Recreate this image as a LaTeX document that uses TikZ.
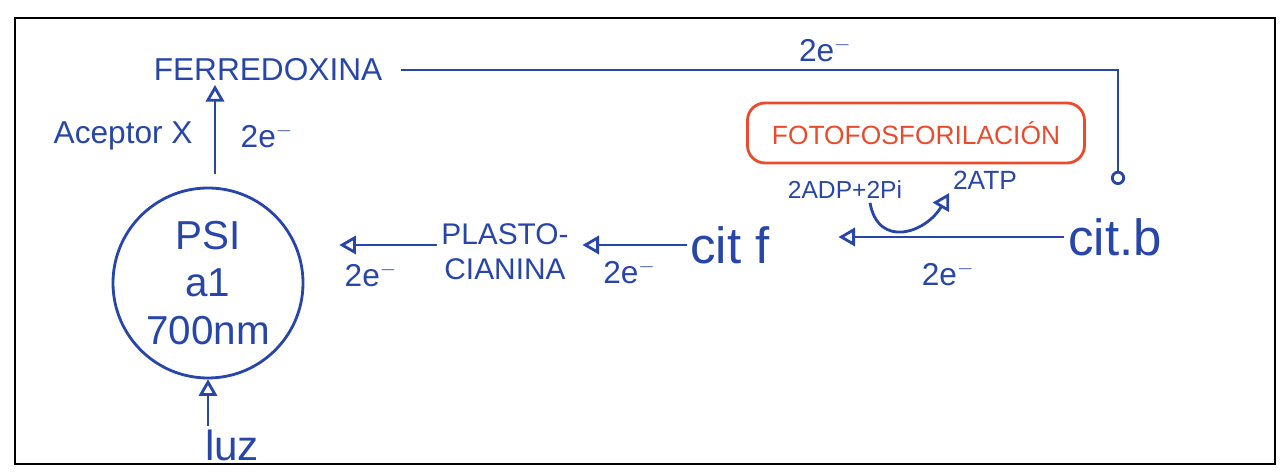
\documentclass[tikz,border=0pt]{standalone}
\usepackage{fontspec}
\setmainfont{Liberation Sans}
\usepackage{tikz}
\usetikzlibrary{arrows,backgrounds}
\definecolor{penblue}{RGB}{40,70,170}
\definecolor{penred}{RGB}{235,75,45}

\begin{document}
\begin{tikzpicture}[
    node distance=2cm,
    lbl/.style={text=penblue, inner sep=2pt, align=center},
    elec/.style={text=penblue, inner sep=1pt, font=\fontsize{18}{20}\selectfont},
    psbox/.style={circle, draw=penblue, line width=1.6pt, minimum size=3.8cm, inner sep=0pt, text=penblue, align=center, font=\fontsize{23}{27}\selectfont},
    fotobox/.style={rectangle, draw=penred, rounded corners=0.35cm, line width=1.6pt, minimum width=6.74cm, minimum height=1.2cm, text=penred, font=\fontsize{15}{17}\selectfont},
    frame/.style={draw=black, line width=1.4pt},
    wire/.style={draw=penblue, line width=1.6pt},
    arrow/.style={wire, ->, >=open triangle 60}
]
    \useasboundingbox (0,0) rectangle (25.74,9.44);
    \draw[frame] (0.3,0.16) rectangle (25.5,9.08);

    \node[lbl, font=\fontsize{29}{31}\selectfont] (citb) at (22.3,4.7) {cit.b};
    \node[lbl, font=\fontsize{29}{31}\selectfont, left of=citb, xshift=-5.7cm, yshift=-0.16cm] (citf) {cit f};
    \node[lbl, font=\fontsize{17}{20}\selectfont, left of=citf, xshift=-2.5cm, yshift=-0.14cm] (plasto) {PLASTO-\\CIANINA};
    \node[psbox, left of=plasto, xshift=-3.94cm, yshift=-0.62cm] (psi) {PSI\\a1\\700nm};
    \node[lbl, font=\fontsize{24}{26}\selectfont, below of=psi, xshift=0.48cm, yshift=-1.24cm] (luz) {luz};
    \node[lbl, font=\fontsize{18}{20}\selectfont] (ferr) at (5.36,8.04) {FERREDOXINA};
    \node[fotobox] (foto) at (18.32,6.78) {FOTOFOSFORILACIÓN};
    \node[lbl, font=\fontsize{14}{16}\selectfont] (adp) at (16.9,5.64) {2ADP+2Pi};
    \node[lbl, font=\fontsize{15}{17}\selectfont] (atp) at (19.7,5.84) {2ATP};
    \coordinate (cbend) at (22.36,5.74);

    \draw[wire, -o, shorten <=0.3cm] (ferr.east) -| (cbend) node[elec, pos=0.3, above=0.1cm] (e0) {2e$^-$};
    \draw[arrow, shorten <=0.25cm] ([xshift=0.14cm]psi.north) -- ([xshift=0.14cm]psi.north |- ferr.south)
        node[elec, midway, right=0.45cm] (e1) {2e$^-$}
        node[lbl, midway, left=0.35cm, font=\fontsize{18}{20}\selectfont] (acep) {Aceptor X};
    \draw[arrow] (luz.north -| psi.south) -- (psi.south);
    \draw[arrow, shorten >=1.3cm] (citb.west) -- (citb.west -| citf.east) node[elec, pos=0.4, below=0.45cm] (e4) {2e$^-$};
    \draw[arrow, shorten >=0.2cm] (citf.west) -- (citf.west -| plasto.east) node[elec, midway, below=0.25cm] (e3) {2e$^-$};
    \draw[arrow, shorten >=0.7cm] ([yshift=0.14cm]plasto.west) -- ([yshift=0.14cm]plasto.west -| psi.east) node[elec, midway, below=0.3cm] (e2) {2e$^-$};
    \draw[arrow] ([xshift=0.5cm]adp.south) to[out=-80, in=-120, looseness=1.5] (atp.south west);
\end{tikzpicture}
\end{document}
